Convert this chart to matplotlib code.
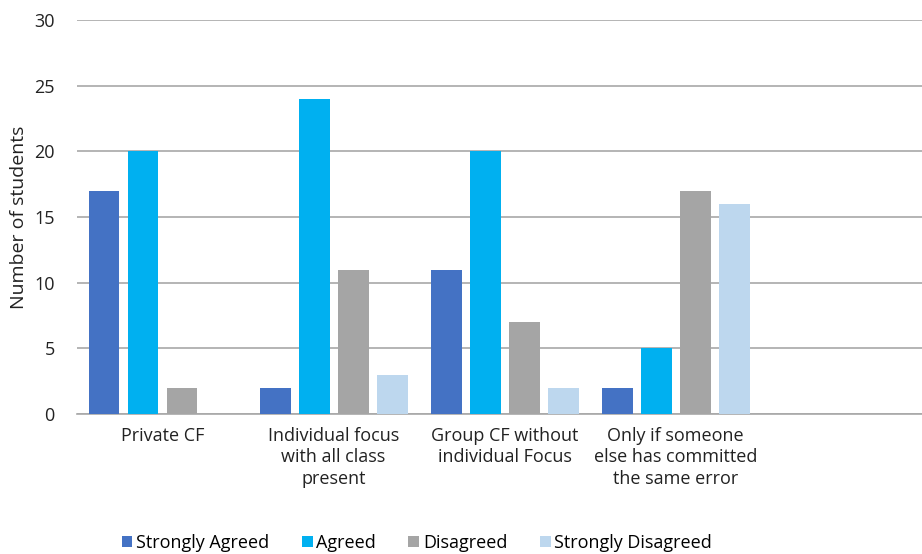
import matplotlib
matplotlib.use("Agg")
import matplotlib.pyplot as plt
import numpy as np
from matplotlib.patches import Patch

plt.rcParams['font.family'] = ['Open Sans', 'DejaVu Sans']

categories = ["Private CF", "Individual focus\nwith all class\npresent",
              "Group CF without\nindividual Focus", "Only if someone\nelse has committed\nthe same error"]
series_names = ["Strongly Agreed", "Agreed", "Disagreed", "Strongly Disagreed"]
strongly_agreed = [17, 2, 11, 2]
agreed = [20, 24, 20, 5]
disagreed = [2, 11, 7, 17]
strongly_disagreed = [0, 3, 2, 16]
yticks = [0, 5, 10, 15, 20, 25, 30]

colors = ["#4472C4", "#00B0F0", "#A5A5A5", "#BDD7EE"]
series = [strongly_agreed, agreed, disagreed, strongly_disagreed]

fig = plt.figure(figsize=(9.22, 5.54), dpi=100)
ax = fig.add_axes([0.0835, 0.2527, 0.9165, 0.7112])

x = np.arange(len(categories))
pitch = 0.228
width = 0.181
for i, (vals, c) in enumerate(zip(series, colors)):
    ax.bar(x + (i - 1.5) * pitch, vals, width=width, color=c, zorder=3)

ax.set_xlim(-0.5, 4.44)
ax.set_ylim(0, 30)
ax.set_yticks(yticks)
ax.yaxis.grid(True, color="#A8A8A8", linewidth=1.2, zorder=0)
ax.set_axisbelow(True)
for s in ["top", "right", "left"]:
    ax.spines[s].set_visible(False)
ax.spines["bottom"].set_color("#A8A8A8")
ax.spines["bottom"].set_linewidth(1.2)
ax.tick_params(axis="both", length=0, labelsize=13, colors="#222222")
ax.tick_params(axis="y", pad=16)
ax.tick_params(axis="x", pad=9)
ax.set_xticks(x)
ax.set_xticklabels(categories, linespacing=1.27)
ax.set_ylabel("Number of students", fontsize=14, color="#222222")
ax.yaxis.set_label_coords(-0.058, 0.5)

handles = [Patch(facecolor=c, label=n) for c, n in zip(colors, series_names)]
fig.legend(handles=handles, loc="center", bbox_to_anchor=(0.452, 0.02), ncol=4,
           frameon=False, fontsize=13, handlelength=0.6, handleheight=0.6,
           handletextpad=0.2, columnspacing=1.8)

fig.savefig("out.png", dpi=100)
